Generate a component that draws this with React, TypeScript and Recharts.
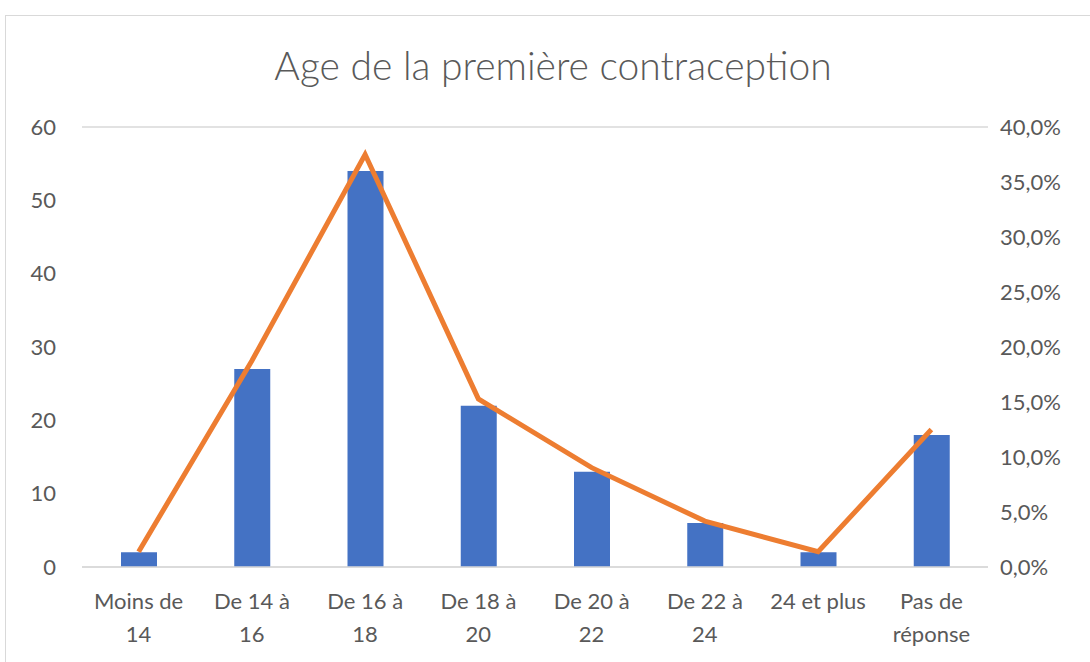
import React from "react";
import { ComposedChart, Bar, Line, XAxis, YAxis, CartesianGrid } from "recharts";

const categories = ["Moins de\n14", "De 14 à\n16", "De 16 à\n18", "De 18 à\n20", "De 20 à\n22", "De 22 à\n24", "24 et plus", "Pas de\nréponse"];
const counts = [2, 27, 54, 22, 13, 6, 2, 18];
const shares = [0.0139, 0.1875, 0.375, 0.1528, 0.0903, 0.0417, 0.0139, 0.125];
const leftTicks = [0, 10, 20, 30, 40, 50, 60];
const rightTicks = [0, 0.05, 0.1, 0.15, 0.2, 0.25, 0.3, 0.35, 0.4];

const data = categories.map((c, i) => ({ cat: c, count: counts[i], share: shares[i] }));

const FONT = "Lato, 'Open Sans', sans-serif";
const GREY = "#595959";

const XTick = (props: any) => {
  const { x, y, payload } = props;
  const lines = String(payload.value).split("\n");
  return (
    <g transform={`translate(${x},${y})`}>
      {lines.map((l, i) => (
        <text key={i} x={0} y={34 + i * 33} textAnchor="middle" fill={GREY} fontSize={22} fontFamily={FONT}>
          {l}
        </text>
      ))}
    </g>
  );
};

export default function App() {
  return (
    <div style={{ position: "absolute", left: 0, top: 0, width: 1090, height: 662, background: "#fff", overflow: "hidden" }}>
      <div style={{ position: "absolute", left: 5, top: 15, width: 1200, height: 700, border: "1px solid #d9d9d9", boxSizing: "border-box" }} />
      <div style={{ position: "absolute", left: 0, width: 1106, top: 42, textAlign: "center", fontFamily: FONT, fontSize: 39, fontWeight: 300, color: GREY }}>
        Age de la première contraception
      </div>
      <div style={{ position: "absolute", left: 0, top: 0 }}>
        <ComposedChart width={1090} height={662} data={data} margin={{ top: 127, right: 0, bottom: 0, left: 0 }}>
          <CartesianGrid vertical={false} stroke="#d9d9d9" strokeWidth={1.5} />
          <XAxis dataKey="cat" height={95} tick={<XTick />} tickLine={false} axisLine={{ stroke: "#d9d9d9", strokeWidth: 1.5 }} interval={0} />
          <YAxis yAxisId="left" width={82} domain={[0, 60]} ticks={leftTicks} tickLine={false} axisLine={false}
            tick={{ fill: GREY, fontSize: 22, fontFamily: FONT }} tickMargin={20} />
          <YAxis yAxisId="right" orientation="right" width={102} domain={[0, 0.4]} ticks={rightTicks} tickLine={false} axisLine={false}
            tick={{ fill: GREY, fontSize: 22, fontFamily: FONT }} tickMargin={6}
            tickFormatter={(v: number) => (v * 100).toFixed(1).replace(".", ",") + "%"} />
          <Bar yAxisId="left" dataKey="count" fill="#4472C4" barSize={36} isAnimationActive={false} />
          <Line yAxisId="right" dataKey="share" stroke="#ED7D31" strokeWidth={5} dot={false} type="linear" isAnimationActive={false} />
        </ComposedChart>
      </div>
    </div>
  );
}
